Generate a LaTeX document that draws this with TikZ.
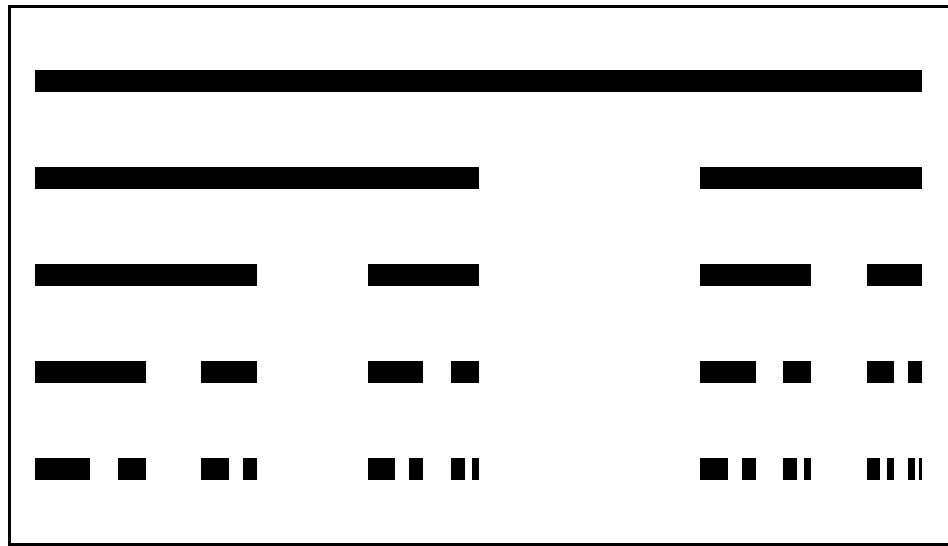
\documentclass[tikz,border=0pt]{standalone}
\begin{document}
\begin{tikzpicture}[x=1pt,y=-1pt,
  cbar/.style={fill=black},
  frameline/.style={draw=black,line width=3pt}]
\useasboundingbox[fill=white] (0,0) rectangle (948,546);
\draw[frameline] (948,6.5) -- (9.5,6.5) -- (9.5,544.5) -- (948,544.5);
\begin{scope}[x=887pt,xshift=35pt]
% level 0
\fill[cbar] (0,70) rectangle (1,92);
% level 1
\foreach \a/\b in {0/0.5, 0.75/1}
  \fill[cbar] (\a,167) rectangle (\b,189);
% level 2
\foreach \a/\b in {0/0.25, 0.375/0.5, 0.75/0.875, 0.9375/1}
  \fill[cbar] (\a,264) rectangle (\b,286);
% level 3
\foreach \a/\b in {0/0.125, 0.1875/0.25, 0.375/0.4375, 0.46875/0.5,
                   0.75/0.8125, 0.84375/0.875, 0.9375/0.96875, 0.984375/1}
  \fill[cbar] (\a,361) rectangle (\b,383);
% level 4
\foreach \a/\b in {0/0.0625, 0.09375/0.125, 0.1875/0.21875, 0.234375/0.25,
                   0.375/0.40625, 0.421875/0.4375, 0.46875/0.484375, 0.4921875/0.5,
                   0.75/0.78125, 0.796875/0.8125, 0.84375/0.859375, 0.8671875/0.875,
                   0.9375/0.953125, 0.9609375/0.96875, 0.984375/0.9921875, 0.99609375/1}
  \fill[cbar] (\a,458) rectangle (\b,480);
\end{scope}
\end{tikzpicture}
\end{document}
